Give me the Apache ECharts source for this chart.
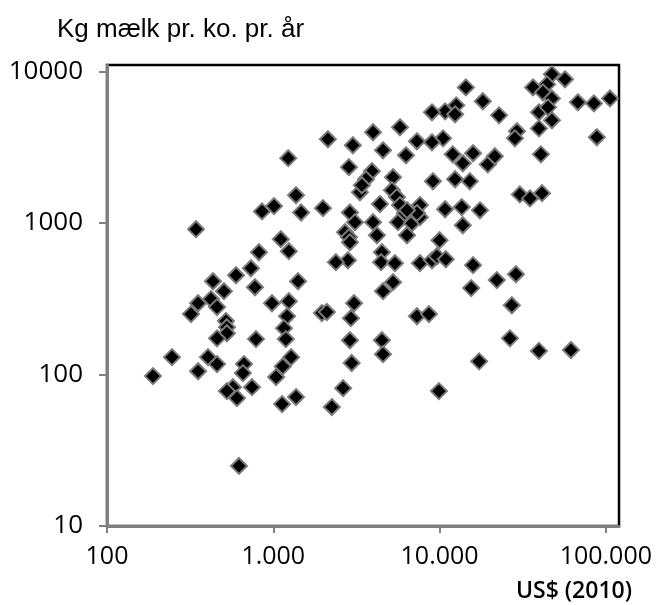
<!DOCTYPE html>
<html>
<head>
<meta charset="utf-8">
<script src="https://cdn.jsdelivr.net/npm/echarts@6/dist/echarts.min.js"></script>
<style>
  html, body { margin: 0; padding: 0; background: #fff; }
  #chart { width: 657px; height: 605px; }
</style>
</head>
<body>
<div id="chart"></div>
<script>
// BNP pr. indbygger (US$ 2010) og mælkeydelse pr. ko pr. år, et punkt pr. land
var gdpPerCapita = [
  47400, 56800, 36500, 44300, 41900, 47400, 67900, 84800, 105900, 39600,
  44900, 47400, 39600, 88300, 40700, 29200, 28400, 30400, 35000, 41300,
  27200, 26500, 39600, 61700, 28800, 22100,
  14400, 18200, 22800, 10800, 12600, 12400, 9000, 10500, 9000, 12000,
  13800, 15900, 19500, 21500, 12400, 15200, 9120, 10800, 13600, 17500,
  13800, 10000, 7620, 9000, 9640, 10900, 15900, 15500, 17300, 9910,
  7310, 8630,
  5780, 3980, 3010, 4570, 6280, 7310, 2850, 3920, 3610, 5250,
  3320, 3410, 5170, 5540, 4380, 2890, 3100, 2700, 2850, 2890,
  2810, 2380, 3980, 4200, 4500, 4450, 5390, 5250, 4570, 5780,
  5620, 6370, 6820, 7620, 7620, 6190, 7310, 6370, 3060, 2930,
  2890, 2960, 2630, 2250, 4500, 4570,
  2130, 1230, 1370, 1990, 1010, 855, 1470, 343, 1110, 1240,
  820, 734, 597, 434, 505, 776, 1410, 982, 1240, 1210,
  1160, 1190, 1960, 2100, 353, 422, 459, 320, 519, 526,
  526, 459, 787, 246, 189, 405, 459, 353, 667, 657,
  745, 572, 526, 605, 1280, 1140, 1040, 1130, 1370, 622
];
var milkPerCow = [
  9550, 8850, 7830, 8200, 7260, 6620, 6240, 6140, 6620, 5360,
  5780, 4750, 4200, 3670, 2830, 4020, 3610, 1540, 1450, 1570,
  286, 173, 143, 145, 458, 419,
  7830, 6340, 5120, 5440, 5960, 5200, 5360, 3610, 3400, 2830,
  2470, 2880, 2430, 2750, 1940, 1880, 1880, 1230, 1270, 1210,
  964, 768, 542, 566, 602, 575, 526, 371, 122, 77.6,
  242, 250,
  4270, 3960, 3250, 3010, 2790, 3450, 2330, 2190, 1940, 2000,
  1590, 1770, 1640, 1480, 1330, 1170, 1010, 867, 804, 745,
  566, 550, 1010, 828, 640, 550, 542, 406, 354, 1310,
  1010, 828, 994, 1310, 1090, 1160, 1160, 1210, 295, 235,
  168, 119, 81.2, 60.9, 168, 136,
  3560, 2670, 1520, 1250, 1290, 1190, 1170, 908, 780, 650,
  640, 502, 451, 412, 354, 376, 412, 295, 304, 242,
  202, 171, 254, 258, 295, 314, 278, 250, 225, 205,
  187, 173, 171, 130, 97.5, 130, 117, 105, 117, 102,
  82.4, 82.4, 77.6, 69.8, 130, 113, 96, 63.7, 70.9, 24.9
];

var xTicks = [100, 1000, 10000, 100000];
var xTickLabels = ['100', '1.000', '10.000', '100.000'];
var yTicks = [10, 100, 1000, 10000];
var yTickLabels = ['10', '100', '1000', '10000'];

var points = gdpPerCapita.map(function (x, i) { return [x, milkPerCow[i]]; });

var chart = echarts.init(document.getElementById('chart'));
chart.setOption({
  animation: false,
  title: [{
    text: 'Kg mælk pr. ko. pr. år',
    left: 57,
    top: 17,
    padding: 0,
    textStyle: { fontFamily: 'Liberation Sans', fontSize: 26, fontWeight: 'normal', color: '#000' }
  }, {
    text: 'US$ (2010)',
    right: 25,
    top: 580,
    padding: 0,
    textStyle: { fontFamily: 'Open Sans', fontSize: 23, fontWeight: 600, color: '#000' }
  }],
  grid: {
    left: 107,
    top: 65,
    width: 512,
    height: 461,
    show: true,
    borderColor: '#000',
    borderWidth: 2.5,
    backgroundColor: '#fff'
  },
  xAxis: {
    type: 'log',
    min: 100,
    max: 120000,
    z: 3,
    axisLine: { lineStyle: { color: '#808080', width: 3 } },
    axisTick: { customValues: xTicks, length: 7, lineStyle: { color: '#808080', width: 2 } },
    axisLabel: {
      customValues: xTicks,
      margin: 18,
      fontFamily: 'Open Sans',
      fontSize: 25,
      color: '#000',
      formatter: function (v) {
        var i = xTicks.indexOf(Math.round(v));
        return i >= 0 ? xTickLabels[i] : '';
      }
    },
    splitLine: { show: false },
    minorTick: { show: false }
  },
  yAxis: {
    type: 'log',
    min: 10,
    max: 11000,
    z: 3,
    axisLine: { show: true, lineStyle: { color: '#808080', width: 3 } },
    axisTick: { show: true, customValues: yTicks, length: 8, lineStyle: { color: '#808080', width: 2 } },
    axisLabel: {
      customValues: yTicks,
      margin: 24,
      fontFamily: 'Open Sans',
      fontSize: 26,
      color: '#000',
      formatter: function (v) {
        var i = yTicks.indexOf(Math.round(v));
        return i >= 0 ? yTickLabels[i] : '';
      }
    },
    splitLine: { show: false }
  },
  series: [{
    type: 'scatter',
    data: points,
    symbol: 'diamond',
    symbolSize: 16,
    itemStyle: { color: '#000', borderColor: '#7a7a7a', borderWidth: 2, opacity: 1 }
  }]
});
</script>
</body>
</html>
